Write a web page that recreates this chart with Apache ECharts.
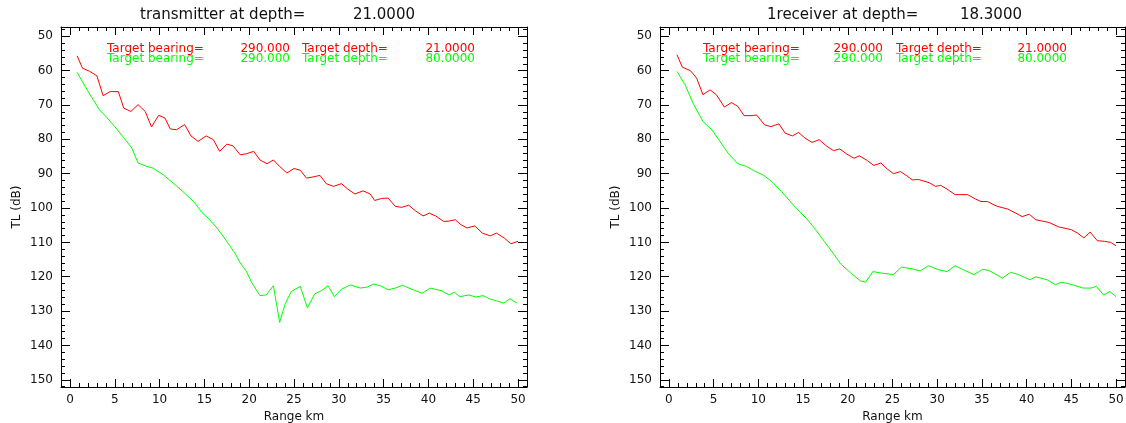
<!DOCTYPE html>
<html>
<head>
<meta charset="utf-8">
<script src="https://cdn.jsdelivr.net/npm/echarts@6/dist/echarts.min.js"></script>
<style>
  html, body { margin: 0; padding: 0; background: #fff; }
  #chart { width: 1126px; height: 423px; }
</style>
</head>
<body>
<div id="chart"></div>
<script>
// tick values
const rangeTicks = [0, 5, 10, 15, 20, 25, 30, 35, 40, 45, 50]
const rangeMinor = [-1, 0, 1, 2, 3, 4, 5, 6, 7, 8, 9, 10, 11, 12, 13, 14, 15, 16, 17, 18, 19, 20, 21, 22, 23, 24, 25,
  26, 27, 28, 29, 30, 31, 32, 33, 34, 35, 36, 37, 38, 39, 40, 41, 42, 43, 44, 45, 46, 47, 48, 49, 50, 51]
const tlTicks = [50, 60, 70, 80, 90, 100, 110, 120, 130, 140, 150]
const tlMinor = [48, 50, 52, 54, 56, 58, 60, 62, 64, 66, 68, 70, 72, 74, 76, 78, 80, 82, 84, 86, 88, 90, 92, 94, 96, 98,
  100, 102, 104, 106, 108, 110, 112, 114, 116, 118, 120, 122, 124, 126, 128, 130, 132, 134, 136, 138, 140, 142, 144, 146, 148, 150, 152]

// panel titles: [text, value]
const panelTitles = [['transmitter at depth=', '21.0000'], ['1receiver at depth=', '18.3000']]
// target rows: [label, bearing, label, depth]
const targetRows = [
  ['Target bearing=', '290.000', 'Target depth=', '21.0000'],
  ['Target bearing=', '290.000', 'Target depth=', '80.0000']
]

// [range km, TL dB]
const txRed = [[0.8,55.7],[1.4,59.3],[2.2,60.2],[3.0,61.5],[3.7,67.3],[4.5,66.1],[5.4,66.1],[6.0,70.9],[6.8,71.9],[7.6,69.9],
  [8.4,71.9],[9.1,76.4],[9.9,73.0],[10.6,73.8],[11.2,77.0],[11.9,77.2],[12.8,75.7],[13.5,79.0],[14.3,80.6],[15.2,79.0],
  [16.0,80.1],[16.7,83.5],[17.5,81.4],[18.2,81.9],[19.0,84.5],[19.7,84.2],[20.5,83.5],[21.2,86.0],[22.0,87.1],[22.7,86.0],
  [23.4,87.9],[24.2,89.8],[25.0,88.5],[25.7,89.0],[26.4,91.3],[27.2,90.9],[27.9,90.5],[28.6,92.9],[29.4,93.7],[30.3,92.9],
  [31.0,94.5],[31.8,95.9],[32.7,95.0],[33.5,95.9],[34.0,97.8],[34.8,97.2],[35.5,97.1],[36.3,99.5],[37.0,99.8],[37.8,99.2],
  [38.6,100.9],[39.4,102.3],[40.1,101.5],[40.8,102.3],[41.7,103.9],[42.3,103.8],[43.0,103.4],[43.6,104.8],[44.3,105.8],
  [45.2,105.2],[46.0,107.3],[46.9,108.1],[47.6,107.3],[48.5,108.8],[49.2,110.4],[50.0,109.7]]
const txGreen = [[0.8,60.5],[1.7,64.6],[2.6,68.5],[3.3,71.4],[4.1,73.6],[5.0,76.3],[5.9,79.2],[6.9,82.5],[7.6,86.9],[8.6,87.9],
  [9.3,88.4],[10.4,90.3],[11.5,92.7],[12.6,95.2],[13.8,98.1],[14.7,101.2],[15.4,102.9],[16.4,105.8],[17.5,109.7],[18.4,113.1],
  [19.0,116.0],[19.7,118.5],[20.3,121.8],[21.2,125.5],[21.9,125.3],[22.7,122.6],[23.4,133.3],[24.0,128.0],[24.7,124.3],
  [25.7,122.8],[26.5,129.1],[27.3,125.0],[28.1,124.0],[28.8,122.6],[29.5,125.8],[30.3,123.6],[31.3,122.4],[32.4,123.3],
  [33.2,123.0],[33.9,122.1],[34.8,122.8],[35.5,123.8],[36.3,123.3],[37.1,122.5],[38.3,123.8],[39.3,124.8],[40.2,123.3],
  [41.5,124.1],[42.3,125.3],[42.9,124.5],[43.5,125.8],[44.5,125.3],[45.3,125.9],[46.1,125.5],[46.9,126.5],[47.6,127.0],
  [48.4,127.7],[49.1,126.4],[49.9,127.7]]
const rxRed = [[0.9,55.4],[1.5,59.0],[2.4,60.0],[3.1,62.2],[3.8,67.0],[4.6,65.6],[5.3,67.0],[6.2,70.6],[7.0,69.3],[7.7,70.4],
  [8.4,73.1],[9.3,73.1],[9.8,72.9],[10.7,75.8],[11.4,76.3],[12.3,75.5],[13.0,78.2],[13.8,79.0],[14.5,78.0],[15.2,79.6],
  [16.0,80.9],[16.8,80.1],[17.6,81.9],[18.4,83.3],[19.1,82.8],[19.9,84.3],[20.7,85.5],[21.3,84.8],[22.2,86.2],[22.9,87.6],
  [23.7,86.9],[24.4,88.6],[25.1,90.0],[25.9,89.4],[26.6,90.6],[27.2,91.8],[27.9,91.7],[29.1,92.6],[29.8,93.7],[30.4,93.4],
  [31.1,94.5],[32.0,96.1],[33.4,96.1],[34.3,97.4],[34.9,98.1],[35.6,98.1],[36.7,99.5],[37.9,100.3],[38.8,101.5],[39.5,102.5],
  [40.3,101.8],[41.0,103.4],[42.5,104.2],[43.6,105.5],[45.0,106.3],[45.7,107.3],[46.4,108.7],[47.1,107.0],[47.9,109.5],
  [48.7,109.7],[49.4,110.0],[50.0,111.0]]
const rxGreen = [[0.9,60.2],[1.8,64.1],[2.7,69.5],[3.8,74.8],[4.8,77.2],[5.7,80.6],[6.6,84.0],[7.7,87.1],[8.7,87.9],[9.5,89.1],
  [10.6,90.5],[11.5,92.3],[12.6,95.2],[13.9,99.1],[15.4,103.1],[16.4,106.3],[17.4,109.8],[18.4,113.3],[19.2,116.3],[20.3,118.8],
  [21.4,121.2],[22.0,121.6],[22.8,118.5],[23.7,118.9],[25.1,119.4],[26.0,117.2],[27.2,117.7],[28.1,118.3],[29.0,116.8],
  [30.2,118.0],[31.1,118.5],[32.0,116.8],[32.8,117.8],[34.1,119.4],[35.1,117.8],[35.8,118.2],[37.3,120.4],[38.2,118.7],
  [39.0,119.3],[40.4,120.9],[41.0,120.0],[42.3,120.9],[43.2,122.3],[43.9,121.6],[45.1,122.3],[46.3,123.3],[47.2,123.3],
  [47.8,122.8],[48.6,125.3],[49.3,124.3],[50.0,125.8]]

const FONT = 'DejaVu Sans'
const INK = '#000'
const panels = [
  { left: 61, width: 466, red: txRed, green: txGreen },
  { left: 660, width: 465, red: rxRed, green: rxGreen }
]

const xAxes = []
const yAxes = []
const grids = []
const series = []
const graphics = []

panels.forEach((p, g) => {
  grids.push({ left: p.left, top: 27, width: p.width, height: 360, containLabel: false, outerBoundsMode: 'none' })

  const xBase = {
    type: 'value', gridIndex: g, min: -1, max: 51,
    splitLine: { show: false },
    axisLine: { onZero: false, lineStyle: { color: INK, width: 1 } },
    axisLabel: { show: false }
  }
  ;['bottom', 'top'].forEach(pos => {
    xAxes.push(Object.assign({}, xBase, {
      position: pos,
      axisTick: { inside: true, length: 8, customValues: rangeTicks, lineStyle: { color: INK } },
      axisLabel: pos === 'bottom'
        ? { show: true, customValues: rangeTicks, margin: 7, color: '#111', fontFamily: FONT, fontSize: 12 }
        : { show: false },
      name: pos === 'bottom' ? 'Range km' : '',
      nameLocation: 'middle', nameGap: 20,
      nameTextStyle: { color: '#111', fontFamily: FONT, fontSize: 12 }
    }))
    xAxes.push(Object.assign({}, xBase, {
      position: pos,
      axisLine: { show: false, onZero: false },
      axisTick: { inside: true, length: 4, customValues: rangeMinor, lineStyle: { color: INK } }
    }))
  })

  const yBase = {
    type: 'value', gridIndex: g, min: 47.3, max: 152.1, inverse: true,
    splitLine: { show: false },
    axisLine: { onZero: false, lineStyle: { color: INK, width: 1 } },
    axisLabel: { show: false }
  }
  ;['left', 'right'].forEach(pos => {
    yAxes.push(Object.assign({}, yBase, {
      position: pos,
      axisTick: { inside: true, length: 9, customValues: tlTicks, lineStyle: { color: INK } },
      axisLabel: pos === 'left'
        ? { show: true, customValues: tlTicks, margin: 8, color: '#111', fontFamily: FONT, fontSize: 12 }
        : { show: false },
      name: pos === 'left' ? 'TL (dB)' : '',
      nameLocation: 'middle', nameGap: 38, nameRotate: 90,
      nameTextStyle: { color: '#111', fontFamily: FONT, fontSize: 12 }
    }))
    yAxes.push(Object.assign({}, yBase, {
      position: pos,
      axisLine: { show: false, onZero: false },
      axisTick: { inside: true, length: 4, customValues: tlMinor, lineStyle: { color: INK } }
    }))
  })

  const ax = g * 4
  ;[[p.red, '#ff0000'], [p.green, '#00ff00']].forEach(([data, color]) => {
    series.push({
      type: 'line', xAxisIndex: ax, yAxisIndex: ax, data: data,
      showSymbol: false, silent: true,
      lineStyle: { color: color, width: 1 }
    })
  })
})

// titles and target annotation rows
const titlePos = [[140, 415], [767, 1022]]
panelTitles.forEach((t, i) => {
  graphics.push({ type: 'text', x: titlePos[i][0], y: 15,
    style: { text: t[0], fill: '#111', font: '15px "' + FONT + '"', textAlign: 'left', textVerticalAlign: 'middle' } })
  graphics.push({ type: 'text', x: titlePos[i][1], y: 15,
    style: { text: t[1], fill: '#111', font: '15px "' + FONT + '"', textAlign: 'right', textVerticalAlign: 'middle' } })
})
const rowX = [[107, 290, 302, 475], [703, 883, 896, 1067]]
const rowColors = ['#ff0000', '#00ff00']
const rowY = [49, 59]
rowX.forEach(xs => {
  targetRows.forEach((row, r) => {
    row.forEach((txt, k) => {
      graphics.push({ type: 'text', x: xs[k], y: rowY[r],
        style: { text: txt, fill: rowColors[r], font: '12px "' + FONT + '"',
          textAlign: k % 2 === 0 ? 'left' : 'right', textVerticalAlign: 'middle' } })
    })
  })
})

const chart = echarts.init(document.getElementById('chart'), null, { renderer: 'canvas' })
chart.setOption({
  animation: false,
  backgroundColor: '#fff',
  grid: grids,
  xAxis: xAxes,
  yAxis: yAxes,
  series: series,
  graphic: graphics
})
</script>
</body>
</html>
